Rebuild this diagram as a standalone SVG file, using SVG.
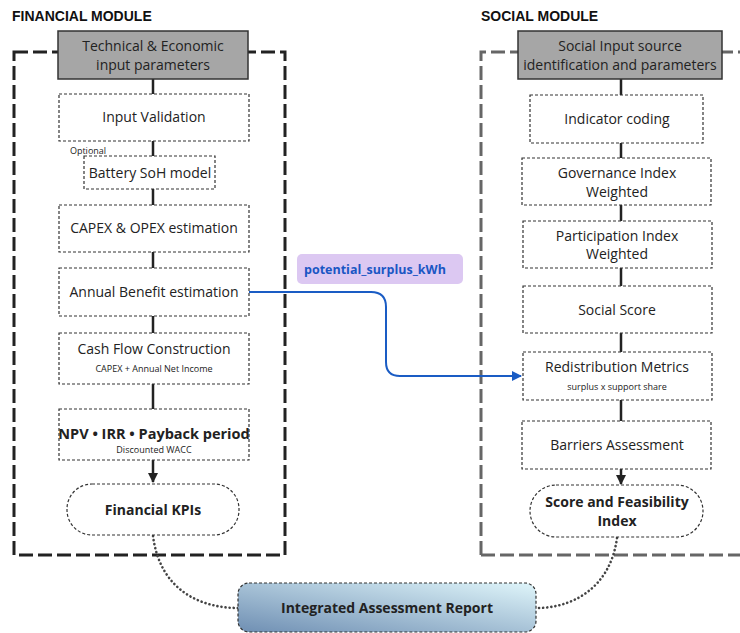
<svg xmlns="http://www.w3.org/2000/svg" width="740" height="633" viewBox="0 0 740 633">
<style>
.t{font-family:"Open Sans","Liberation Sans",sans-serif;fill:#222;text-anchor:middle}
.n{font-size:14px}
.s{font-size:9px}
.b{font-weight:bold}
.box{fill:#fff;stroke:#333;stroke-width:1.2;stroke-dasharray:3 2}
.hdr{fill:#a6a6a6;stroke:#333;stroke-width:1.5}
.ln{stroke:#222;stroke-width:2.5;fill:none}
.dot{fill:none;stroke:#444;stroke-width:2.6;stroke-dasharray:0.1 4;stroke-linecap:round}
.title{font-family:"Liberation Sans",sans-serif;font-weight:bold;font-size:14px;fill:#111}
</style>
<defs>
<marker id="ah" viewBox="0 0 10 10" refX="9" refY="5" markerWidth="4" markerHeight="4" orient="auto"><path d="M0,0 L10,5 L0,10 z" fill="#222"/></marker>
<marker id="ab" viewBox="0 0 10 10" refX="9" refY="5" markerWidth="5" markerHeight="5" orient="auto"><path d="M0,0 L10,5 L0,10 z" fill="#1a5cc4"/></marker>
<linearGradient id="g" x1="0" y1="1" x2="1" y2="0"><stop offset="0" stop-color="#6f8fb3"/><stop offset="1" stop-color="#dff5fa"/></linearGradient>
</defs>

<text class="title" x="12" y="21">FINANCIAL MODULE</text>
<text class="title" x="481" y="21">SOCIAL MODULE</text>

<rect x="14" y="52" width="271" height="503" fill="none" stroke="#222" stroke-width="3" stroke-dasharray="14 5"/>
<path d="M481,555 V52 H742 M481,555 H742" fill="none" stroke="#666" stroke-width="3" stroke-dasharray="14 5"/>

<g id="connectors">
<path class="ln" d="M153,79 V94 M153,141 V156 M153,189 V205 M153,252 V268 M153,316 V333 M153,384 V409"/>
<path class="ln" d="M153,460 V482" stroke-width="2" marker-end="url(#ah)"/>
<path class="ln" d="M621,79 V95 M621,143 V158 M621,205 V221 M621,268 V286 M621,333 V352 M621,400 V421"/>
<path class="ln" d="M621,469 V484" stroke-width="2" marker-end="url(#ah)"/>
<path d="M249,292 H371 Q386,292 386,307 V362 Q386,376 400,376 H521" fill="none" stroke="#1a5cc4" stroke-width="2" marker-end="url(#ab)"/>
<path class="dot" d="M153,536 C160,590 200,608 238,608"/>
<path class="dot" d="M617,538 C610,590 570,608 537,608"/>
</g>

<g id="fin_header"><rect class="hdr" x="58" y="31" width="190" height="48"/><text class="t n" x="153" y="51">Technical &amp; Economic</text><text class="t n" x="153" y="70">input parameters</text></g>
<g id="input_validation"><rect class="box" x="59" y="94" width="190" height="47"/><text class="t n" x="154" y="122">Input Validation</text></g>
<g id="battery_soh"><text class="t" x="88" y="154" font-size="9">Optional</text><rect class="box" x="84" y="156" width="131" height="33"/><text class="t n" x="150" y="178">Battery SoH model</text></g>
<g id="capex_opex"><rect class="box" x="59" y="205" width="190" height="47"/><text class="t n" x="154" y="233">CAPEX &amp; OPEX estimation</text></g>
<g id="annual_benefit"><rect class="box" x="59" y="268" width="190" height="48"/><text class="t n" x="154" y="297">Annual Benefit estimation</text></g>
<g id="cash_flow"><rect class="box" x="59" y="333" width="190" height="51"/><text class="t n" x="154" y="354">Cash Flow Construction</text><text class="t s" x="154" y="372">CAPEX + Annual Net Income</text></g>
<g id="npv"><rect class="box" x="59" y="409" width="190" height="51"/><text class="t b" x="154" y="439" font-size="14.5">NPV • IRR • Payback period</text><text class="t s" x="154" y="453">Discounted WACC</text></g>
<g id="financial_kpis"><rect class="box" x="67" y="484" width="172" height="51" rx="25"/><text class="t n b" x="153" y="515">Financial KPIs</text></g>

<g id="soc_header"><rect class="hdr" x="518" y="31" width="204" height="48"/><text class="t n" x="620" y="51">Social Input source</text><text class="t n" x="620" y="70">identification and parameters</text></g>
<g id="indicator_coding"><rect class="box" x="530" y="95" width="173" height="48"/><text class="t n" x="617" y="124">Indicator coding</text></g>
<g id="governance"><rect class="box" x="522" y="158" width="189" height="47"/><text class="t n" x="617" y="178">Governance Index</text><text class="t n" x="617" y="197">Weighted</text></g>
<g id="participation"><rect class="box" x="523" y="221" width="189" height="47"/><text class="t n" x="617" y="241">Participation Index</text><text class="t n" x="617" y="259">Weighted</text></g>
<g id="social_score"><rect class="box" x="523" y="286" width="189" height="47"/><text class="t n" x="617" y="315">Social Score</text></g>
<g id="redistribution"><rect class="box" x="523" y="352" width="189" height="48"/><text class="t n" x="617" y="372">Redistribution Metrics</text><text class="t s" x="617" y="390">surplus x support share</text></g>
<g id="barriers"><rect class="box" x="522" y="421" width="189" height="48"/><text class="t n" x="617" y="450">Barriers Assessment</text></g>
<g id="score_feasibility"><rect class="box" x="530" y="485" width="173" height="52" rx="26"/><text class="t n b" x="617" y="507">Score and Feasibility</text><text class="t n b" x="617" y="526">Index</text></g>

<g id="surplus_label"><rect x="297" y="254" width="166" height="30" rx="5" fill="#dcc8f2"/><text x="304" y="274" font-family="'Open Sans','Liberation Sans',sans-serif" font-size="12.5" font-weight="bold" fill="#1a56c4">potential_surplus_kWh</text></g>

<g id="integrated_report"><rect x="238" y="583" width="298" height="49" rx="11" fill="url(#g)" stroke="#333" stroke-width="1.2" stroke-dasharray="3 2"/><text class="t n b" x="387" y="613">Integrated Assessment Report</text></g>
</svg>
